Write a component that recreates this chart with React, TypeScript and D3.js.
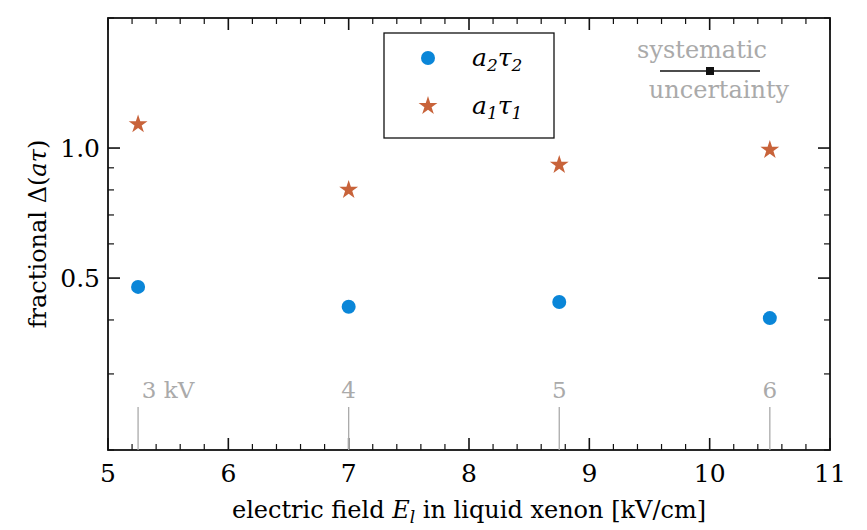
import * as d3 from "d3";

const voltages = ["3 kV", "4", "5", "6"];
const fields = [5.25, 7, 8.75, 10.5];
const a2t2 = [0.477, 0.429, 0.44, 0.404];
const a1t1 = [1.135, 0.8, 0.914, 0.99];
const yTicks = [0.5, 1.0];

const W = 867, H = 530;
const m = { left: 108, right: 37, top: 18, bottom: 80 };
const font = "'DejaVu Serif', serif";
const blue = "#0a86d8";
const orange = "#c8633a";
const grey = "#aaaaaa";

export default function App() {
  const x = d3.scaleLinear().domain([5, 11]).range([m.left, W - m.right]);
  const y = d3.scaleLog().domain([0.2, 2]).range([H - m.bottom, m.top]);
  const star = d3.symbol().type(d3.symbolStar).size(110)() as string;
  const xMajor = d3.range(5, 11.01, 1);
  const xMinor = d3.range(5, 11.01, 0.2).filter((v) => Math.abs(v - Math.round(v)) > 0.01);
  const yMinor = [0.2, 0.3, 0.4, 0.6, 0.7, 0.8, 0.9, 2];
  const x0 = m.left, x1 = W - m.right, y0 = H - m.bottom, y1 = m.top;
  return (
    <svg width={W} height={H} style={{ position: "absolute", left: 0, top: 0 }} fontFamily={font}>
      <rect x={x0} y={y1} width={x1 - x0} height={y0 - y1} fill="none" stroke="#111" strokeWidth={1.8} />
      {xMajor.map((v) => (
        <g key={"xm" + v}>
          <line x1={x(v)} x2={x(v)} y1={y0} y2={y0 - 12} stroke="#111" strokeWidth={1.6} />
          <line x1={x(v)} x2={x(v)} y1={y1} y2={y1 + 12} stroke="#111" strokeWidth={1.6} />
          <text x={x(v)} y={y0 + 32} textAnchor="middle" fontSize={25}>{v}</text>
        </g>
      ))}
      {xMinor.map((v) => (
        <g key={"xn" + v}>
          <line x1={x(v)} x2={x(v)} y1={y0} y2={y0 - 6} stroke="#111" strokeWidth={1.2} />
          <line x1={x(v)} x2={x(v)} y1={y1} y2={y1 + 6} stroke="#111" strokeWidth={1.2} />
        </g>
      ))}
      {yTicks.map((v) => (
        <g key={"ym" + v}>
          <line x1={x0} x2={x0 + 12} y1={y(v)} y2={y(v)} stroke="#111" strokeWidth={1.6} />
          <line x1={x1} x2={x1 - 12} y1={y(v)} y2={y(v)} stroke="#111" strokeWidth={1.6} />
          <text x={x0 - 8} y={y(v) + 9} textAnchor="end" fontSize={25}>{v.toFixed(1)}</text>
        </g>
      ))}
      {yMinor.map((v) => (
        <g key={"yn" + v}>
          <line x1={x0} x2={x0 + 6} y1={y(v)} y2={y(v)} stroke="#111" strokeWidth={1.2} />
          <line x1={x1} x2={x1 - 6} y1={y(v)} y2={y(v)} stroke="#111" strokeWidth={1.2} />
        </g>
      ))}
      {fields.map((f, i) => (
        <g key={"v" + i}>
          <line x1={x(f)} x2={x(f)} y1={y0} y2={y0 - 43} stroke={grey} strokeWidth={1.3} />
          <text x={x(f) + (i === 0 ? 30 : 0)} y={y0 - 52} textAnchor="middle" fontSize={23} fill={grey}>{voltages[i]}</text>
        </g>
      ))}
      {fields.map((f, i) => (
        <circle key={"c" + i} cx={x(f)} cy={y(a2t2[i])} r={7} fill={blue} />
      ))}
      {fields.map((f, i) => (
        <path key={"s" + i} d={star} transform={`translate(${x(f)},${y(a1t1[i])})`} fill={orange} />
      ))}
      <rect x={384} y={33} width={170} height={105} fill="white" stroke="#111" strokeWidth={1.3} />
      <circle cx={428} cy={58} r={7} fill={blue} />
      <text x={472} y={66} fontSize={25} fontStyle="italic">a<tspan fontSize={17} dy={5}>2</tspan><tspan dy={-5}>τ</tspan><tspan fontSize={17} dy={5}>2</tspan></text>
      <path d={star} transform="translate(428,106)" fill={orange} />
      <text x={472} y={114} fontSize={25} fontStyle="italic">a<tspan fontSize={17} dy={5}>1</tspan><tspan dy={-5}>τ</tspan><tspan fontSize={17} dy={5}>1</tspan></text>
      <text x={702} y={58} textAnchor="middle" fontSize={24} fill={grey}>systematic</text>
      <line x1={660} x2={760} y1={71} y2={71} stroke="#111" strokeWidth={1.3} />
      <rect x={706} y={67} width={8} height={8} fill="#111" />
      <text x={719} y={98} textAnchor="middle" fontSize={24} fill={grey}>uncertainty</text>
      <text x={(x0 + x1) / 2} y={H - 12} textAnchor="middle" fontSize={24}>electric field <tspan fontStyle="italic">E</tspan><tspan fontStyle="italic" fontSize={17} dy={5}>l</tspan><tspan dy={-5}> in liquid xenon [kV/cm]</tspan></text>
      <text transform={`translate(46,${(y0 + y1) / 2}) rotate(-90)`} textAnchor="middle" fontSize={24}>fractional Δ(<tspan fontStyle="italic">aτ</tspan>)</text>
    </svg>
  );
}
